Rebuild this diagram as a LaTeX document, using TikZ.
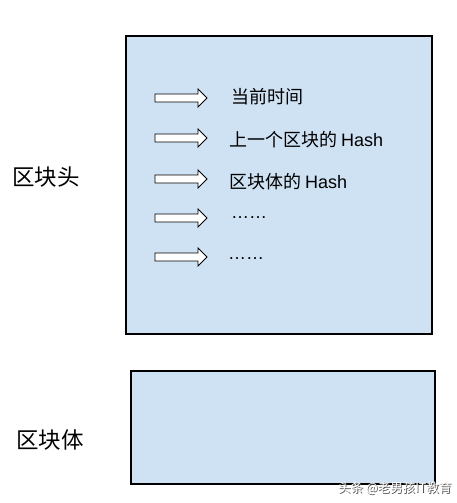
\documentclass[tikz,border=0pt]{standalone}
\usepackage{fontspec}
\setmainfont{Noto Sans CJK SC}
\newfontfamily\latinsans{Liberation Sans}
\usetikzlibrary{calc}
\definecolor{boxfill}{HTML}{CFE2F3}
\tikzset{
  blockbox/.style={draw=black, fill=boxfill, line width=1.2pt},
  itemtext/.style={anchor=west, inner sep=0pt, font=\fontsize{18}{20}\selectfont},
  sidelabel/.style={anchor=west, inner sep=0pt, font=\fontsize{22.5}{26}\selectfont},
  wmtext/.style={anchor=west, inner sep=0pt, font=\fontsize{12.5}{14}\selectfont},
  pics/blockarrow/.style={code={
    \draw[line width=0.9pt, fill=white] (0,-4) -- (43,-4) -- (43,-9) -- (52,0) -- (43,9) -- (43,4) -- (0,4) -- cycle;
  }}
}
\begin{document}
\begin{tikzpicture}[x=1pt,y=-1pt]
\useasboundingbox (0,0) rectangle (456,503);
\fill[white] (0,0) rectangle (456,503);
% boxes
\draw[blockbox] (126,36) rectangle (432,334);
\draw[blockbox] (131,371) rectangle (435,484);
% arrows
\pic at (155,98) {blockarrow};
\pic at (155,138) {blockarrow};
\pic at (155,179) {blockarrow};
\pic at (155,218) {blockarrow};
\pic at (155,257) {blockarrow};
% texts
\node[itemtext] (t1) at (231,97) {当前时间};
\node[itemtext] (t2) at (229,140) {上一个区块的 {\latinsans Hash}};
\node[itemtext] (t3) at (229,182) {区块体的 {\latinsans Hash}};
\node[itemtext] (t4) at (231,218) {\latinsans ……};
\node[itemtext] (t5) at (228,259) {\latinsans ……};
\node[sidelabel] (l1) at (12,177) {区块头};
\node[sidelabel] (l2) at (16,440) {区块体};
\node[wmtext, text=black!70] (wmshadow) at (338.8,488.8) {头条 @老男孩IT教育};
\node[wmtext, text=white] (wm) at (338,488) {头条 @老男孩IT教育};
\end{tikzpicture}
\end{document}
